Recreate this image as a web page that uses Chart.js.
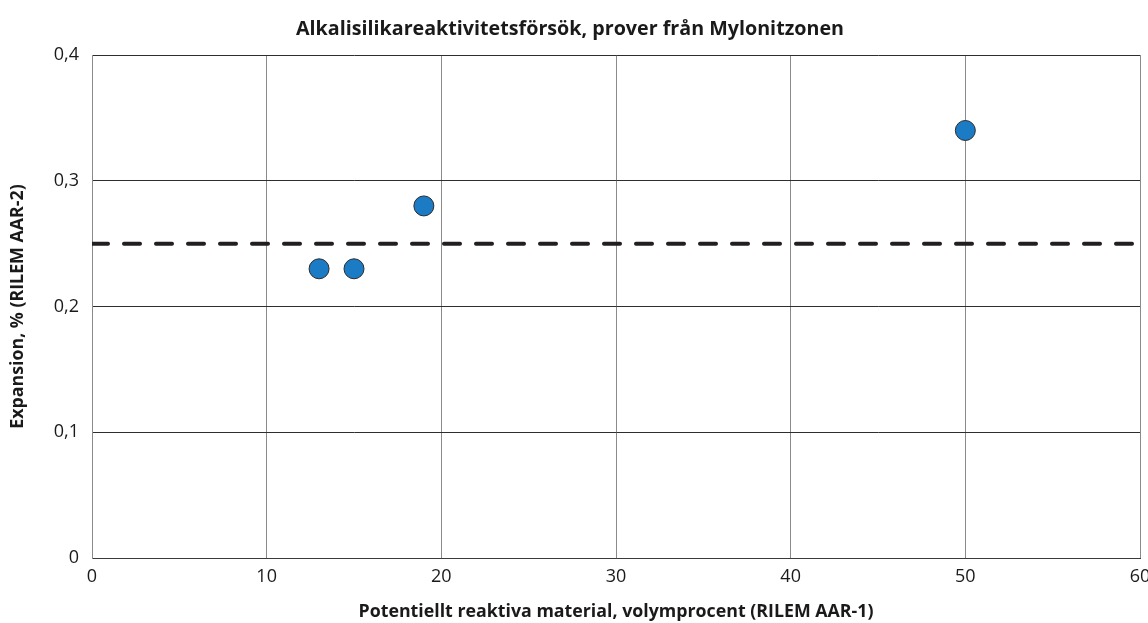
<!DOCTYPE html>
<html>
<head>
<meta charset="utf-8">
<script src="https://cdn.jsdelivr.net/npm/chart.js@4"></script>
<style>
  html, body { margin: 0; padding: 0; background: #fff; }
  #wrap { width: 1148px; height: 623px; }
</style>
</head>
<body>
<div id="wrap"><canvas id="c" width="1148" height="623"></canvas></div>
<script>
// Sample measurements: reactive material content vs. measured expansion
const reactiveContent = [13, 15, 19, 50];     // volymprocent (RILEM AAR-1)
const expansion = [0.23, 0.23, 0.28, 0.34];   // % (RILEM AAR-2)
const limitX = [0, 60];
const limitY = [0.25, 0.25];                  // gränsvärde för expansion
const xTicks = [0, 10, 20, 30, 40, 50, 60];
const yTicks = [0, 0.1, 0.2, 0.3, 0.4];

const FONT = "'Open Sans', 'Noto Sans', sans-serif";
const fmt = v => v === 0 ? '0' : String(v).replace('.', ',');

new Chart(document.getElementById('c'), {
  type: 'scatter',
  data: {
    datasets: [
      {
        label: 'Prover',
        data: reactiveContent.map((x, i) => ({ x, y: expansion[i] })),
        backgroundColor: '#1b7bc4',
        borderColor: '#2b2b2b',
        borderWidth: 1,
        pointRadius: 10,
        pointHoverRadius: 10,
        order: 1
      },
      {
        label: 'Gräns',
        type: 'line',
        data: limitX.map((x, i) => ({ x, y: limitY[i] })),
        borderColor: '#231f20',
        borderWidth: 4,
        borderDash: [16, 16],
        borderCapStyle: 'round',
        pointRadius: 0,
        fill: false,
        order: 2
      }
    ]
  },
  options: {
    responsive: false,
    animation: false,
    events: [],
    layout: { autoPadding: false, padding: { left: 0, right: 8, top: 0, bottom: 0 } },
    plugins: {
      legend: { display: false },
      tooltip: { enabled: false },
      title: {
        display: true,
        text: 'Alkalisilikareaktivitetsförsök, prover från Mylonitzonen',
        color: '#1a1a1a',
        font: { family: FONT, size: 19.7, weight: 'bold' },
        padding: { top: 18, bottom: 13.4 }
      }
    },
    scales: {
      x: {
        type: 'linear',
        min: 0, max: 60,
        afterBuildTicks: s => { s.ticks = xTicks.map(v => ({ value: v })); },
        afterFit: s => { s.height = 65; s.paddingRight = 0; s.paddingLeft = 0; },
        ticks: {
          color: '#1a1a1a',
          font: { family: FONT, size: 18 },
          padding: 8,
          callback: v => fmt(v)
        },
        grid: { color: '#8a8a8a', lineWidth: 1, drawTicks: false },
        border: { color: '#3a3a3a', width: 1 },
        title: {
          display: true,
          text: 'Potentiellt reaktiva material, volymprocent (RILEM AAR-1)',
          color: '#1a1a1a',
          font: { family: FONT, size: 17.8, weight: 'bold' },
          padding: { top: 0, bottom: 0 }
        }
      },
      y: {
        type: 'linear',
        min: 0, max: 0.4,
        afterBuildTicks: s => { s.ticks = yTicks.map(v => ({ value: v })); },
        afterFit: s => { s.width = 92; },
        ticks: {
          color: '#1a1a1a',
          font: { family: FONT, size: 18 },
          padding: 13,
          callback: v => fmt(Math.round(v * 10) / 10)
        },
        grid: { color: '#2e2e2e', lineWidth: 1, drawTicks: false },
        border: { color: '#8a8a8a', width: 1 },
        title: {
          display: true,
          text: 'Expansion, % (RILEM AAR-2)',
          color: '#1a1a1a',
          font: { family: FONT, size: 17.8, weight: 'bold' },
          padding: { top: 7.3, bottom: 0 }
        }
      }
    }
  }
});
</script>
</body>
</html>
